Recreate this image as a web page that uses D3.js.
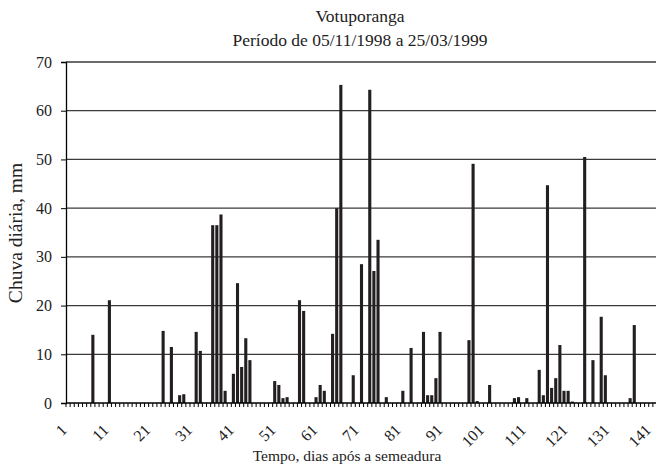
<!DOCTYPE html>
<html>
<head>
<meta charset="utf-8">
<script src="https://cdn.jsdelivr.net/npm/d3@7"></script>
<style>
  body { margin: 0; background: #fff; }
  svg { display: block; font-family: "Liberation Serif", "Times New Roman", serif; }
</style>
</head>
<body>
<div id="chart"></div>
<script>
// Daily rainfall, Votuporanga (05/11/1998 - 25/03/1999)
var days = [7, 11, 24, 26, 28, 29, 32, 33, 36, 37, 38, 39, 41, 42, 43, 44, 45,
    51, 52, 53, 54, 57, 58, 61, 62, 63, 65, 66, 67, 70, 72, 74, 75, 76, 78,
    82, 84, 87, 88, 89, 90, 91, 98, 99, 100, 103, 109, 110, 112,
    115, 116, 117, 118, 119, 120, 121, 122, 123, 126, 128, 130, 131, 137, 138];
var rain = [14.0, 21.1, 14.8, 11.5, 1.6, 1.8, 14.6, 10.7, 36.5, 36.5, 38.7, 2.5, 6.0, 24.6, 7.4, 13.3, 8.8,
    4.5, 3.7, 1.0, 1.2, 21.1, 18.9, 1.2, 3.7, 2.5, 14.2, 40.0, 65.3, 5.7, 28.5, 64.3, 27.1, 33.5, 1.2,
    2.5, 11.3, 14.6, 1.6, 1.6, 5.1, 14.6, 12.9, 49.1, 0.4, 3.7, 1.0, 1.2, 1.0,
    6.8, 1.6, 44.7, 3.1, 5.1, 11.9, 2.5, 2.5, 0.3, 50.5, 8.8, 17.7, 5.7, 1.0, 16.0];
var dayCount = 143;
var xTickLabels = [1, 11, 21, 31, 41, 51, 61, 71, 81, 91, 101, 111, 121, 131, 141];
var yTicks = [0, 10, 20, 30, 40, 50, 60, 70];

var width = 656, height = 465;
var margin = {top: 62, right: -1, bottom: 62, left: 66};
var w = width - margin.left - margin.right;
var h = height - margin.top - margin.bottom;

var svg = d3.select("#chart").append("svg")
    .attr("width", width)
    .attr("height", height);

var g = svg.append("g")
    .attr("transform", "translate(" + margin.left + "," + margin.top + ")");

var xScale = d3.scaleBand()
    .domain(d3.range(1, dayCount + 1))
    .range([0, w])
    .paddingInner(0.25)
    .paddingOuter(0.125);

// the rotated day labels are spread a little wider than the bars
var labelScale = d3.scaleLinear()
    .domain([1, 141])
    .range([2, 586]);

var yScale = d3.scaleLinear()
    .domain([0, 70])
    .range([h, 0]);

// horizontal gridlines
g.selectAll(".grid")
    .data(yTicks.filter(function(d) { return d > 0; }))
    .enter().append("line")
    .attr("class", "grid")
    .attr("x1", 0)
    .attr("x2", w)
    .attr("y1", function(d) { return yScale(d); })
    .attr("y2", function(d) { return yScale(d); })
    .attr("stroke", "#3a3a3a")
    .attr("stroke-width", 1.3);

// bars
g.selectAll(".bar")
    .data(days)
    .enter().append("rect")
    .attr("class", "bar")
    .attr("x", function(d) { return xScale(d); })
    .attr("y", function(d, i) { return yScale(rain[i]); })
    .attr("width", xScale.bandwidth())
    .attr("height", function(d, i) { return h - yScale(rain[i]); })
    .attr("fill", "#231f20");

// y axis
var yAxis = d3.axisLeft(yScale).tickValues(yTicks).tickSize(5).tickPadding(9);
var yg = g.append("g").call(yAxis);
yg.select(".domain").attr("stroke", "#000").attr("stroke-width", 1.3);
yg.selectAll(".tick line").attr("stroke", "#000");
yg.selectAll("text")
    .attr("font-family", "Liberation Serif, serif")
    .attr("font-size", 16)
    .attr("fill", "#222");

// x axis: one tick between every day
var step = xScale.step();
var bounds = d3.range(0, dayCount + 1).map(function(i) { return i * step; });
g.append("line")
    .attr("x1", 0).attr("x2", w)
    .attr("y1", h).attr("y2", h)
    .attr("stroke", "#000").attr("stroke-width", 1.3);
g.selectAll(".xtick")
    .data(bounds)
    .enter().append("line")
    .attr("class", "xtick")
    .attr("x1", function(d) { return d; })
    .attr("x2", function(d) { return d; })
    .attr("y1", h)
    .attr("y2", h + 4)
    .attr("stroke", "#000");

g.selectAll(".xlabel")
    .data(xTickLabels)
    .enter().append("text")
    .attr("class", "xlabel")
    .attr("transform", function(d) {
        return "translate(" + labelScale(d) + "," + (h + 28) + ") rotate(-45)";
    })
    .attr("text-anchor", "end")
    .attr("font-size", 16)
    .attr("fill", "#222")
    .text(function(d) { return d; });

// titles
svg.append("text")
    .attr("x", 360).attr("y", 22)
    .attr("text-anchor", "middle")
    .attr("font-size", 17.5)
    .attr("fill", "#222")
    .text("Votuporanga");
svg.append("text")
    .attr("x", 360).attr("y", 46)
    .attr("text-anchor", "middle")
    .attr("font-size", 17.5)
    .attr("fill", "#222")
    .text("Período de 05/11/1998 a 25/03/1999");

svg.append("text")
    .attr("x", 347).attr("y", 461)
    .attr("text-anchor", "middle")
    .attr("font-size", 15.5)
    .attr("fill", "#222")
    .text("Tempo, dias após a semeadura");

svg.append("text")
    .attr("transform", "translate(22,233) rotate(-90)")
    .attr("text-anchor", "middle")
    .attr("font-size", 19.5)
    .attr("fill", "#222")
    .text("Chuva diária, mm");
</script>
</body>
</html>
